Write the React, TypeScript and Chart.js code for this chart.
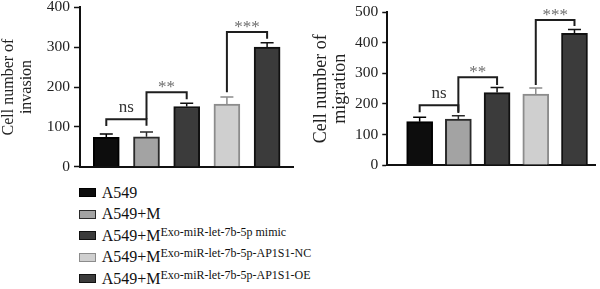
import React, { useEffect, useRef } from 'react';
import { Chart, registerables } from 'chart.js';

Chart.register(...registerables);

// Groups (legend text is base name plus superscript)
const groupNames = ['A549', 'A549+M', 'A549+M', 'A549+M', 'A549+M'];
const groupSuperscripts = [
  '',
  '',
  'Exo-miR-let-7b-5p mimic',
  'Exo-miR-let-7b-5p-AP1S1-NC',
  'Exo-miR-let-7b-5p-AP1S1-OE',
];
const groupPositions = [1, 2, 3, 4, 5];

// Invasion assay
const invasionMeans = [74, 75, 151, 157, 300];
const invasionErrors = [8, 12, 8, 18, 11];
const invasionTicks = [0, 100, 200, 300, 400];

// Migration assay
const migrationMeans = [142, 150, 237, 232, 431];
const migrationErrors = [14, 11, 17, 20, 13];
const migrationTicks = [0, 100, 200, 300, 400, 500];

// Significance brackets: groups compared, foot height of each leg, bar height, label
type Bracket = { from: number; to: number; fromFoot: number; toFoot: number; top: number; label: string };
const invasionBrackets: Bracket[] = [
  { from: 0, to: 1, fromFoot: 102, toFoot: 103, top: 119, label: 'ns' },
  { from: 1, to: 2, fromFoot: 119, toFoot: 169, top: 187, label: '**' },
  { from: 3, to: 4, fromFoot: 187, toFoot: 321, top: 338, label: '***' },
];
const migrationBrackets: Bracket[] = [
  { from: 0, to: 1, fromFoot: 173, toFoot: 170, top: 196, label: 'ns' },
  { from: 1, to: 2, fromFoot: 174, toFoot: 262, top: 287, label: '**' },
  { from: 3, to: 4, fromFoot: 262, toFoot: 455, top: 475, label: '***' },
];

const barFills = ['#0d0d0d', '#a3a3a3', '#3b3b3b', '#cfcfcf', '#3b3b3b'];
const barEdges = ['#000000', '#2a2a2a', '#111111', '#8c8c8c', '#111111'];

const FONT = '"Liberation Serif", "Times New Roman", serif';

type PanelSpec = {
  means: number[];
  errors: number[];
  ticks: number[];
  brackets: Bracket[];
  title: string[];
  titleSize: number;
  titleLineHeight: number;
  xMin: number;
  xMax: number;
  padding: { left: number; right: number; top: number; bottom: number };
  yWidth: number;
  tickLength: number;
};

function makeAnnotations(spec: PanelSpec) {
  return {
    id: 'errorsAndBrackets',
    afterDatasetsDraw(chart: any) {
      const { ctx } = chart;
      const xs = chart.scales.x;
      const ys = chart.scales.y;
      ctx.save();
      // upward error bars
      spec.means.forEach((m, i) => {
        const cx = xs.getPixelForValue(groupPositions[i]);
        const yBar = ys.getPixelForValue(m);
        const yErr = ys.getPixelForValue(m + spec.errors[i]);
        ctx.strokeStyle = barEdges[i];
        ctx.lineWidth = 1.5;
        ctx.beginPath();
        ctx.moveTo(cx, yBar);
        ctx.lineTo(cx, yErr);
        ctx.moveTo(cx - 6.5, yErr);
        ctx.lineTo(cx + 6.5, yErr);
        ctx.stroke();
      });
      // comparison brackets
      spec.brackets.forEach((b) => {
        const x1 = xs.getPixelForValue(groupPositions[b.from]);
        const x2 = xs.getPixelForValue(groupPositions[b.to]);
        const yTop = ys.getPixelForValue(b.top);
        ctx.strokeStyle = '#1e1e1e';
        ctx.lineWidth = 2;
        ctx.lineJoin = 'miter';
        ctx.beginPath();
        ctx.moveTo(x1, ys.getPixelForValue(b.fromFoot));
        ctx.lineTo(x1, yTop);
        ctx.lineTo(x2, yTop);
        ctx.lineTo(x2, ys.getPixelForValue(b.toFoot));
        ctx.stroke();

        const isNs = b.label === 'ns';
        ctx.font = `${isNs ? 17 : 17}px ${FONT}`;
        ctx.fillStyle = isNs ? '#333333' : '#6f6f6f';
        ctx.textAlign = 'center';
        ctx.textBaseline = 'alphabetic';
        const m = ctx.measureText(b.label);
        const glyphMid = (m.actualBoundingBoxAscent - m.actualBoundingBoxDescent) / 2;
        const centerY = yTop - (isNs ? 11 : 7.5);
        ctx.fillText(b.label, (x1 + x2) / 2, centerY + glyphMid);
      });
      ctx.restore();
    },
  };
}

function Panel({ spec, left }: { spec: PanelSpec; left: number }) {
  const ref = useRef<HTMLCanvasElement>(null);

  useEffect(() => {
    if (!ref.current) return;
    const yMax = spec.ticks[spec.ticks.length - 1];
    const chart = new Chart(ref.current, {
      type: 'bar',
      data: {
        datasets: [
          {
            data: spec.means.map((v, i) => ({ x: groupPositions[i], y: v })),
            backgroundColor: barFills,
            borderColor: barEdges,
            borderWidth: 2,
            barThickness: 26,
          },
        ],
      },
      options: {
        responsive: false,
        animation: false,
        devicePixelRatio: 1,
        layout: { padding: spec.padding },
        plugins: { legend: { display: false }, tooltip: { enabled: false } },
        scales: {
          x: {
            type: 'linear',
            offset: false,
            min: spec.xMin,
            max: spec.xMax,
            ticks: { display: false },
            grid: { display: false, drawTicks: false, offset: false },
            border: { display: true, color: '#111111', width: 2 },
            afterFit: (s: any) => {
              s.height = 0;
            },
          },
          y: {
            min: 0,
            max: yMax,
            afterBuildTicks: (s: any) => {
              s.ticks = spec.ticks.map((v) => ({ value: v }));
            },
            ticks: {
              color: '#222222',
              padding: 4,
              font: { family: FONT, size: 15.5 },
            },
            grid: {
              drawOnChartArea: false,
              drawTicks: true,
              tickLength: spec.tickLength,
              tickWidth: 1.5,
              tickColor: '#111111',
            },
            border: { display: true, color: '#111111', width: 2 },
            title: {
              display: true,
              text: spec.title,
              color: '#222222',
              padding: { top: 0, bottom: 0 },
              font: { family: FONT, size: spec.titleSize, lineHeight: spec.titleLineHeight },
            },
            afterFit: (s: any) => {
              s.width = spec.yWidth;
            },
          },
        },
      },
      plugins: [makeAnnotations(spec)],
    } as any);
    return () => chart.destroy();
  }, [spec]);

  return (
    <canvas
      ref={ref}
      width={300}
      height={200}
      style={{ position: 'absolute', left, top: -20, width: 300, height: 200 }}
    />
  );
}

const invasionSpec: PanelSpec = {
  means: invasionMeans,
  errors: invasionErrors,
  ticks: invasionTicks,
  brackets: invasionBrackets,
  title: ['Cell number of', 'invasion'],
  titleSize: 16,
  titleLineHeight: 1.1,
  xMin: 0.346,
  xMax: 5.644,
  padding: { left: 0, right: 7, top: 27.3, bottom: 12.3 },
  yWidth: 80,
  tickLength: 6,
};

const migrationSpec: PanelSpec = {
  means: migrationMeans,
  errors: migrationErrors,
  ticks: migrationTicks,
  brackets: migrationBrackets,
  title: ['Cell number of', 'migration'],
  titleSize: 18,
  titleLineHeight: 1.083,
  xMin: 0.163,
  xMax: 5.53,
  padding: { left: 11.25, right: 5, top: 32.3, bottom: 15 },
  yWidth: 76,
  tickLength: 5,
};

function Legend() {
  return (
    <>
      {groupNames.map((name, i) => (
        <div
          key={i}
          style={{
            position: 'absolute',
            left: 79,
            top: 184.9 + 21.5 * i,
            height: 20,
            width: 300,
          }}
        >
          <div
            style={{
              position: 'absolute',
              left: 0,
              top: 3.6,
              width: 17,
              height: 9,
              boxSizing: 'border-box',
              background: barFills[i],
              border: `1px solid ${barEdges[i]}`,
            }}
          />
          <span
            style={{
              position: 'absolute',
              left: 22.7,
              top: 0,
              fontFamily: FONT,
              fontSize: 16,
              lineHeight: '16px',
              color: '#111111',
              whiteSpace: 'nowrap',
            }}
          >
            {name}
            {groupSuperscripts[i] && (
              <span style={{ fontSize: 12, verticalAlign: '5px', lineHeight: 0 }}>
                {groupSuperscripts[i]}
              </span>
            )}
          </span>
        </div>
      ))}
    </>
  );
}

export default function App() {
  return (
    <div
      style={{
        position: 'absolute',
        left: 0,
        top: 0,
        width: 600,
        height: 289,
        overflow: 'hidden',
        background: '#ffffff',
      }}
    >
      <Panel spec={invasionSpec} left={0} />
      <Panel spec={migrationSpec} left={300} />
      <Legend />
    </div>
  );
}
